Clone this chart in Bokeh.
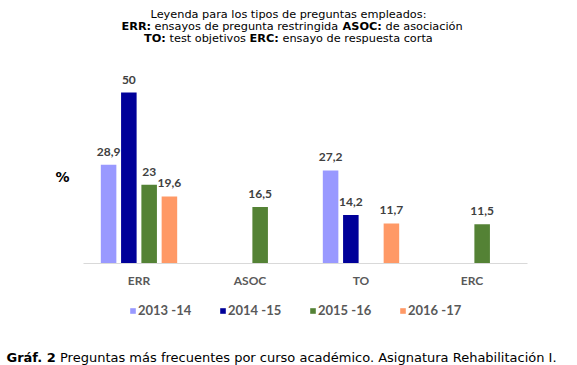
from bokeh.plotting import figure
from bokeh.models import ColumnDataSource, Label, Legend, LegendItem, Range1d, FixedTicker
from bokeh.core.properties import value
from bokeh.embed import file_html
from bokeh.resources import INLINE

# ---- data ----
categories = ["ERR", "ASOC", "TO", "ERC"]
series_names = ["2013 -14", "2014 -15", "2015 -16", "2016 -17"]
v_2013_14 = [28.9, None, 27.2, None]
v_2014_15 = [50, None, 14.2, None]
v_2015_16 = [23, 16.5, None, 11.5]
v_2016_17 = [19.6, None, 11.7, None]
series_values = [v_2013_14, v_2014_15, v_2015_16, v_2016_17]

colors = ["#9999FF", "#000099", "#548235", "#FF9966"]
offsets = [-0.274, -0.0915, 0.0915, 0.274]

W, H = 577, 365

def fmt(v):
    if float(v).is_integer():
        return str(int(v))
    return ("%g" % v).replace(".", ",")

# frame covers the whole canvas; category i is centred at i + 0.5
p = figure(x_range=Range1d(-83 / 111, (W - 83) / 111),
           y_range=Range1d((263 - H) / 3.42, 263 / 3.42),
           width=W, height=H, output_backend="svg", toolbar_location=None,
           y_axis_location=None, min_border=0)
p.outline_line_color = None
p.xgrid.grid_line_color = None
p.ygrid.grid_line_color = None
p.background_fill_color = "white"
p.border_fill_color = "white"

ax = p.xaxis[0]
ax.fixed_location = 0
ax.bounds = (0, len(categories))
ax.ticker = FixedTicker(ticks=[i + 0.5 for i in range(len(categories))])
ax.major_label_overrides = {i + 0.5: c for i, c in enumerate(categories)}
ax.axis_line_color = "#D9D9D9"
ax.axis_line_width = 1
ax.major_tick_line_color = None
ax.minor_tick_line_color = None
ax.major_tick_out = 0
ax.major_tick_in = 0
ax.major_label_standoff = 9
ax.major_label_text_font = "Lato"
ax.major_label_text_font_style = "bold"
ax.major_label_text_font_size = "12px"
ax.major_label_text_color = "#595959"

items = []
for name, vals, col, off in zip(series_names, series_values, colors, offsets):
    xs = [i + 0.5 + off for i, v in enumerate(vals) if v is not None]
    vv = [v for v in vals if v is not None]
    src = ColumnDataSource(dict(x=xs, val=vv, lab=[fmt(v) for v in vv]))
    r = p.vbar(x="x", top="val", width=0.14, source=src, fill_color=col, line_color=None)
    p.text(x="x", y="val", text="lab", source=src,
           text_align="center", text_baseline="alphabetic", y_offset=-13,
           text_font=value("Lato"), text_font_style="bold",
           text_font_size="12px", text_color="#404040")
    items.append(LegendItem(label=name, renderers=[r]))

legend = Legend(items=items, orientation="horizontal", location=(129, 47),
                glyph_width=7, glyph_height=7, label_height=7, label_width=55,
                label_standoff=2, spacing=26, padding=0, margin=0,
                border_line_color=None, background_fill_alpha=0,
                label_text_font="Lato", label_text_font_style="bold",
                label_text_font_size="13px", label_text_color="#595959")
p.add_layout(legend)

# texts placed in page pixels (x from left, y = baseline from top)
def lab(x, y, text, bold=False, size="11.3px", align="left", baseline="alphabetic"):
    p.add_layout(Label(x=x, y=H - y, x_units="screen", y_units="screen", text=text,
                       text_font="DejaVu Sans", text_font_size=size,
                       text_font_style="bold" if bold else "normal",
                       text_align=align, text_baseline=baseline, text_color="black"))

# header: explanation of the abbreviations
lab(288, 13.5, "Leyenda para los tipos de preguntas empleados:", align="center")
lab(121, 25.5, "ERR:", bold=True)
lab(154, 25.5, "ensayos de pregunta restringida")
lab(342, 25.5, "ASOC:", bold=True)
lab(385, 25.5, "de asociación")
lab(143.5, 37.5, "TO:", bold=True)
lab(169, 37.5, "test objetivos")
lab(249, 37.5, "ERC:", bold=True)
lab(282, 37.5, "ensayo de respuesta corta")

# "%" axis mark
lab(62, 176.5, "%", bold=True, size="14px", align="center", baseline="middle")

# caption
lab(6, 357, "Gráf. 2", bold=True, size="13px")
lab(59.5, 357, "Preguntas más frecuentes por curso académico. Asignatura Rehabilitación  I.", size="13px")

open("out.html", "w").write(file_html(p, INLINE))
